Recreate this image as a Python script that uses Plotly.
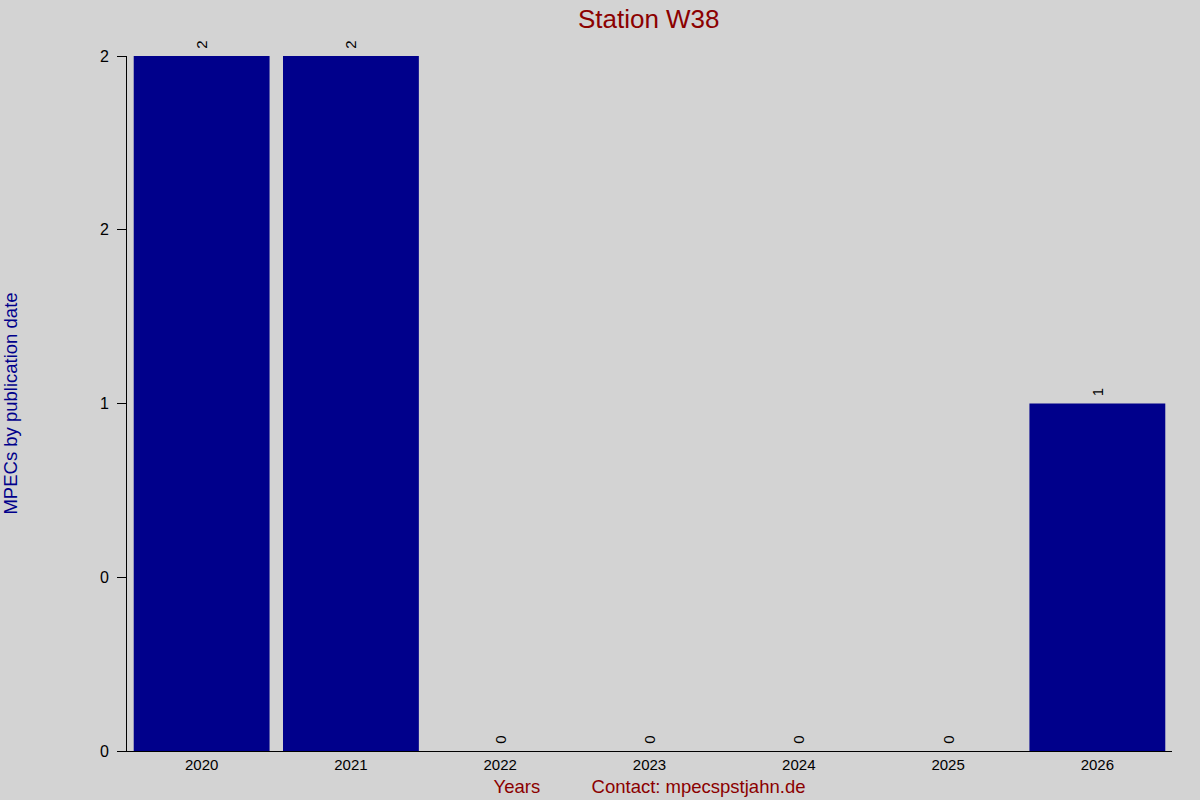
import plotly.graph_objects as go

YEARS = ['2020', '2021', '2022', '2023', '2024', '2025', '2026']
MPECS = [2, 2, 0, 0, 0, 0, 1]
Y_TICKS = [0, 0.5, 1, 1.5, 2]
Y_TICK_TEXT = ['0', '0', '1', '2', '2']


def main():
    fig = go.Figure(go.Bar(x=YEARS, y=MPECS,
                           marker=dict(color='#00008B', line_width=0),
                           text=[str(v) for v in MPECS],
                           texttemplate='&nbsp;%{text}',
                           textposition='outside', textangle=-90,
                           constraintext='none',
                           textfont=dict(size=15, color='black'),
                           cliponaxis=False))

    fig.update_layout(
        width=1200, height=800,
        paper_bgcolor='#D3D3D3', plot_bgcolor='#D3D3D3',
        font=dict(family='Liberation Sans, Arial, sans-serif', size=15, color='black'),
        title=dict(text='Station W38', x=0.5406, xanchor='center', y=0.977, yanchor='middle',
                   font=dict(size=26, color='#8B0000')),
        margin=dict(l=127, r=28, t=56, b=49),
        bargap=0.09,
        showlegend=False,
    )
    fig.update_xaxes(type='category', showline=True, linecolor='black', linewidth=1,
                     ticks='', showgrid=False, automargin=False,
                     title=dict(text='Years' + '&nbsp;' * 10 + 'Contact: mpecspstjahn.de',
                                font=dict(size=18.5, color='#8B0000'), standoff=8))
    fig.update_yaxes(range=[0, 2], tickvals=Y_TICKS, ticktext=Y_TICK_TEXT,
                     showline=True, linecolor='black', linewidth=1,
                     ticks='outside', ticklen=9, tickcolor='black',
                     ticklabelstandoff=5, tickfont=dict(size=16),
                     showgrid=False, zeroline=False, automargin=False,
                     title=dict(text='MPECs by publication date',
                                font=dict(size=18.5, color='#00008B'), standoff=88))
    # drop the page margin so the grey fills the window
    fig.write_html('out.html', config={'displayModeBar': False},
                   post_script="document.body.style.margin='0';")


if __name__ == '__main__':
    main()
